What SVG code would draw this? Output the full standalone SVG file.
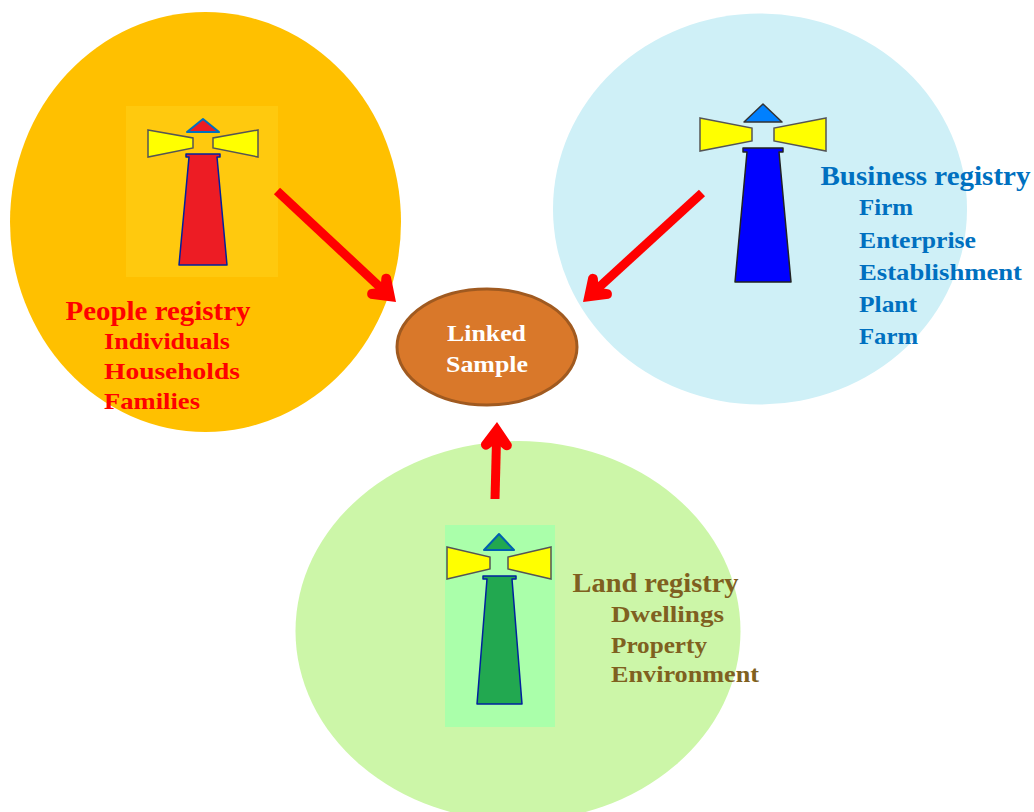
<svg xmlns="http://www.w3.org/2000/svg" width="1034" height="812" viewBox="0 0 1034 812">
<style>
text{font-family:"Liberation Serif","DejaVu Serif",serif;font-weight:bold}
.t{font-size:27px}.s{font-size:24px}
.red{fill:#ff0000}.blue{fill:#0070c0}.olive{fill:#7f6020}
.beam{fill:#ffff00;stroke:#555;stroke-width:1.5}
.arrow{fill:none;stroke:#ff0000;stroke-width:9}
.head{fill:#ff0000}
</style>
<defs>
<path id="arrowhead" class="head" d="M0 0L15 21A5 5 0 0 1 7.500 27L0 21L-7.500 27A5 5 0 0 1 -15 21Z"/>
</defs>
<g id="people">
<ellipse cx="205.500" cy="222" rx="195.500" ry="210" fill="#ffc000"/>
<rect x="126" y="106" width="152" height="171" fill="#ffc90e"/>
<path class="beam" d="M148 130L193 138V148L148 157Z"/>
<path class="beam" d="M258 130L213 138V148L258 157Z"/>
<path d="M187 132L203 119L219 132Z" fill="#ed1c24" stroke="#0070c0" stroke-width="2" stroke-linejoin="round"/>
<path d="M186 154H220V157H217L227 265H179L189 157H186Z" fill="#ed1c24" stroke="#00209f" stroke-width="1.500" stroke-linejoin="round"/>
<text class="t red" x="65.500" y="320" textLength="185" lengthAdjust="spacingAndGlyphs">People registry</text>
<text class="s red" x="104" y="349" textLength="126" lengthAdjust="spacingAndGlyphs">Individuals</text>
<text class="s red" x="104" y="379" textLength="136" lengthAdjust="spacingAndGlyphs">Households</text>
<text class="s red" x="104" y="409" textLength="96" lengthAdjust="spacingAndGlyphs">Families</text>
</g>
<g id="business">
<ellipse cx="760" cy="209" rx="207" ry="195.500" fill="#cff0f7"/>
<path class="beam" d="M700 118L752 128V141L700 151Z"/>
<path class="beam" d="M826 118L774 128V141L826 151Z"/>
<path d="M744 122L763 104L782 122Z" fill="#0080ff" stroke="#333" stroke-width="1.500" stroke-linejoin="round"/>
<path d="M743 148H783V152H779L791 282H735L747 152H743Z" fill="#0000ff" stroke="#222" stroke-width="1.500" stroke-linejoin="round"/>
<text class="t blue" x="820.500" y="185" textLength="210" lengthAdjust="spacingAndGlyphs">Business registry</text>
<text class="s blue" x="859" y="215" textLength="54" lengthAdjust="spacingAndGlyphs">Firm</text>
<text class="s blue" x="859" y="248" textLength="117" lengthAdjust="spacingAndGlyphs">Enterprise</text>
<text class="s blue" x="859" y="280" textLength="163" lengthAdjust="spacingAndGlyphs">Establishment</text>
<text class="s blue" x="859" y="312" textLength="58" lengthAdjust="spacingAndGlyphs">Plant</text>
<text class="s blue" x="859" y="344" textLength="59" lengthAdjust="spacingAndGlyphs">Farm</text>
</g>
<g id="land">
<ellipse cx="518" cy="631" rx="222.500" ry="190" fill="#ccf6a8"/>
<rect x="445" y="525" width="110" height="202" fill="#aaffaa"/>
<path class="beam" d="M447 547L490 557V569L447 579Z"/>
<path class="beam" d="M551 547L508 557V569L551 579Z"/>
<path d="M484 550L499 534L514 550Z" fill="#22a850" stroke="#0060b0" stroke-width="2" stroke-linejoin="round"/>
<path d="M483 576H516V579H512L522 704H477L487 579H483Z" fill="#22a850" stroke="#00209f" stroke-width="1.500" stroke-linejoin="round"/>
<text class="t olive" x="572.500" y="592" textLength="166" lengthAdjust="spacingAndGlyphs">Land registry</text>
<text class="s olive" x="611" y="622" textLength="113" lengthAdjust="spacingAndGlyphs">Dwellings</text>
<text class="s olive" x="611" y="653" textLength="96" lengthAdjust="spacingAndGlyphs">Property</text>
<text class="s olive" x="611" y="682" textLength="148" lengthAdjust="spacingAndGlyphs">Environment</text>
</g>
<g id="linked">
<ellipse cx="487" cy="347" rx="90" ry="58" fill="#d9782a" stroke="#a05a20" stroke-width="3"/>
<text x="447" y="341" font-size="24" fill="#ffffff" textLength="79" lengthAdjust="spacingAndGlyphs">Linked</text>
<text x="446" y="372" font-size="24" fill="#ffffff" textLength="82" lengthAdjust="spacingAndGlyphs">Sample</text>
</g>
<g id="connectors">
<path class="arrow" d="M277 191L382 289"/>
<use href="#arrowhead" transform="translate(396,302) rotate(133)"/>
<path class="arrow" d="M702 193L596 290"/>
<use href="#arrowhead" transform="translate(583,302) rotate(-132.500)"/>
<path class="arrow" d="M495 499L496.500 440"/>
<use href="#arrowhead" transform="translate(497,422) rotate(1.500)"/>
</g>
</svg>
